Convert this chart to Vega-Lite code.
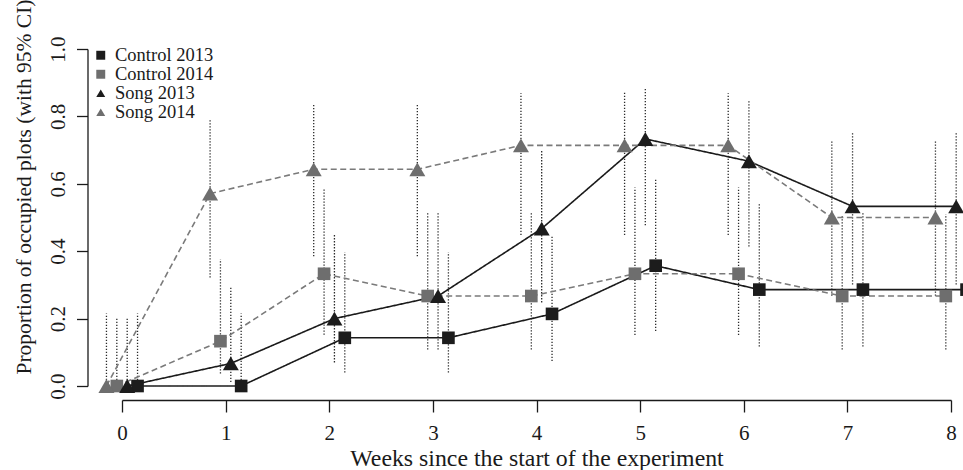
{
  "$schema": "https://vega.github.io/schema/vega-lite/v6.json",
  "width": 829,
  "height": 337,
  "autosize": {"type": "none"},
  "padding": {"left": 122, "top": 49, "right": 12, "bottom": 84},
  "background": "white",
  "config": {
    "font": "Liberation Serif",
    "view": {"stroke": null},
    "axis": {
      "grid": false,
      "domainColor": "#1a1a1a",
      "tickColor": "#1a1a1a",
      "labelColor": "#1a1a1a",
      "titleColor": "#1a1a1a",
      "domainWidth": 1.3,
      "tickWidth": 1.3,
      "labelFont": "Liberation Serif",
      "titleFont": "Liberation Serif",
      "titleFontWeight": "normal",
      "labelOverlap": false,
      "labelFlush": false
    }
  },
  "data": {
    "values": [
      {"series": "Control 2013", "treatment": "Control", "year": "2013", "week": 0, "x": 0.15, "p": 0, "lo": 0, "hi": 0.215},
      {"series": "Control 2013", "treatment": "Control", "year": "2013", "week": 1, "x": 1.15, "p": 0, "lo": 0, "hi": 0.215},
      {"series": "Control 2013", "treatment": "Control", "year": "2013", "week": 2, "x": 2.15, "p": 0.143, "lo": 0.040, "hi": 0.397},
      {"series": "Control 2013", "treatment": "Control", "year": "2013", "week": 3, "x": 3.15, "p": 0.143, "lo": 0.040, "hi": 0.397},
      {"series": "Control 2013", "treatment": "Control", "year": "2013", "week": 4, "x": 4.15, "p": 0.214, "lo": 0.074, "hi": 0.445},
      {"series": "Control 2013", "treatment": "Control", "year": "2013", "week": 5, "x": 5.15, "p": 0.357, "lo": 0.163, "hi": 0.613},
      {"series": "Control 2013", "treatment": "Control", "year": "2013", "week": 6, "x": 6.15, "p": 0.286, "lo": 0.117, "hi": 0.543},
      {"series": "Control 2013", "treatment": "Control", "year": "2013", "week": 7, "x": 7.15, "p": 0.286, "lo": 0.117, "hi": 0.515},
      {"series": "Control 2013", "treatment": "Control", "year": "2013", "week": 8, "x": 8.15, "p": 0.286, "lo": 0.117, "hi": 0.515},
      {"series": "Control 2014", "treatment": "Control", "year": "2014", "week": 0, "x": -0.05, "p": 0, "lo": 0, "hi": 0.204},
      {"series": "Control 2014", "treatment": "Control", "year": "2014", "week": 1, "x": 0.95, "p": 0.133, "lo": 0.037, "hi": 0.376},
      {"series": "Control 2014", "treatment": "Control", "year": "2014", "week": 2, "x": 1.95, "p": 0.333, "lo": 0.152, "hi": 0.585},
      {"series": "Control 2014", "treatment": "Control", "year": "2014", "week": 3, "x": 2.95, "p": 0.267, "lo": 0.108, "hi": 0.518},
      {"series": "Control 2014", "treatment": "Control", "year": "2014", "week": 4, "x": 3.95, "p": 0.267, "lo": 0.108, "hi": 0.518},
      {"series": "Control 2014", "treatment": "Control", "year": "2014", "week": 5, "x": 4.95, "p": 0.333, "lo": 0.151, "hi": 0.589},
      {"series": "Control 2014", "treatment": "Control", "year": "2014", "week": 6, "x": 5.95, "p": 0.333, "lo": 0.151, "hi": 0.589},
      {"series": "Control 2014", "treatment": "Control", "year": "2014", "week": 7, "x": 6.95, "p": 0.267, "lo": 0.108, "hi": 0.505},
      {"series": "Control 2014", "treatment": "Control", "year": "2014", "week": 8, "x": 7.95, "p": 0.267, "lo": 0.108, "hi": 0.51},
      {"series": "Song 2013", "treatment": "Song", "year": "2013", "week": 0, "x": 0.05, "p": 0, "lo": 0, "hi": 0.204},
      {"series": "Song 2013", "treatment": "Song", "year": "2013", "week": 1, "x": 1.05, "p": 0.067, "lo": 0.012, "hi": 0.292},
      {"series": "Song 2013", "treatment": "Song", "year": "2013", "week": 2, "x": 2.05, "p": 0.2, "lo": 0.07, "hi": 0.449},
      {"series": "Song 2013", "treatment": "Song", "year": "2013", "week": 3, "x": 3.05, "p": 0.267, "lo": 0.108, "hi": 0.518},
      {"series": "Song 2013", "treatment": "Song", "year": "2013", "week": 4, "x": 4.05, "p": 0.467, "lo": 0.248, "hi": 0.70},
      {"series": "Song 2013", "treatment": "Song", "year": "2013", "week": 5, "x": 5.05, "p": 0.733, "lo": 0.477, "hi": 0.886},
      {"series": "Song 2013", "treatment": "Song", "year": "2013", "week": 6, "x": 6.05, "p": 0.667, "lo": 0.414, "hi": 0.849},
      {"series": "Song 2013", "treatment": "Song", "year": "2013", "week": 7, "x": 7.05, "p": 0.533, "lo": 0.301, "hi": 0.75},
      {"series": "Song 2013", "treatment": "Song", "year": "2013", "week": 8, "x": 8.05, "p": 0.533, "lo": 0.301, "hi": 0.75},
      {"series": "Song 2014", "treatment": "Song", "year": "2014", "week": 0, "x": -0.15, "p": 0, "lo": 0, "hi": 0.215},
      {"series": "Song 2014", "treatment": "Song", "year": "2014", "week": 1, "x": 0.85, "p": 0.571, "lo": 0.322, "hi": 0.789},
      {"series": "Song 2014", "treatment": "Song", "year": "2014", "week": 2, "x": 1.85, "p": 0.643, "lo": 0.385, "hi": 0.835},
      {"series": "Song 2014", "treatment": "Song", "year": "2014", "week": 3, "x": 2.85, "p": 0.643, "lo": 0.385, "hi": 0.835},
      {"series": "Song 2014", "treatment": "Song", "year": "2014", "week": 4, "x": 3.85, "p": 0.714, "lo": 0.448, "hi": 0.869},
      {"series": "Song 2014", "treatment": "Song", "year": "2014", "week": 5, "x": 4.85, "p": 0.714, "lo": 0.448, "hi": 0.87},
      {"series": "Song 2014", "treatment": "Song", "year": "2014", "week": 6, "x": 5.85, "p": 0.714, "lo": 0.448, "hi": 0.869},
      {"series": "Song 2014", "treatment": "Song", "year": "2014", "week": 7, "x": 6.85, "p": 0.5, "lo": 0.268, "hi": 0.731},
      {"series": "Song 2014", "treatment": "Song", "year": "2014", "week": 8, "x": 7.85, "p": 0.5, "lo": 0.268, "hi": 0.731}
    ]
  },
  "encoding": {
    "x": {
      "field": "x",
      "type": "quantitative",
      "scale": {"domain": [0, 8], "nice": false, "zero": false},
      "axis": {
        "title": "Weeks since the start of the experiment",
        "values": [0, 1, 2, 3, 4, 5, 6, 7, 8],
        "format": "d",
        "offset": 14,
        "tickSize": 12,
        "labelFontSize": 21,
        "labelBaseline": "alphabetic",
        "labelPadding": 27,
        "titleFontSize": 23.8,
        "titlePadding": 3
      }
    },
    "y": {
      "field": "p",
      "type": "quantitative",
      "scale": {"domain": [0, 1], "nice": false, "zero": false},
      "axis": {"title": "Proportion of occupied plots (with 95% CI)", "values": [0, 0.2, 0.4, 0.6, 0.8, 1], "format": ".1f", "offset": 34.5, "tickSize": 11, "labelAngle": 270, "labelAlign": "center", "labelBaseline": "alphabetic", "labelPadding": 12, "labelFontSize": 21, "titleFontSize": 21.5, "titleBaseline": "alphabetic", "titleAngle": 270, "titleX": -57.5, "titleY": 137.5}
    }
  },
  "layer": [
    {
      "mark": {"type": "rule", "strokeDash": [1.3, 1.7], "strokeWidth": 1.3, "color": "#2a2a2a"},
      "encoding": {
        "y": {
          "field": "lo",
          "type": "quantitative",
          "scale": {"domain": [0, 1], "nice": false, "zero": false},
          "axis": {"title": "Proportion of occupied plots (with 95% CI)", "values": [0, 0.2, 0.4, 0.6, 0.8, 1], "format": ".1f", "offset": 34.5, "tickSize": 11, "labelAngle": 270, "labelAlign": "center", "labelBaseline": "alphabetic", "labelPadding": 12, "labelFontSize": 21, "titleFontSize": 21.5, "titleBaseline": "alphabetic", "titleAngle": 270, "titleX": -57.5, "titleY": 137.5}
        },
        "y2": {"field": "hi"}
      }
    },
    {
      "mark": {"type": "line", "strokeWidth": 1.6},
      "encoding": {
        "detail": {"field": "series"},
        "stroke": {
          "field": "year",
          "type": "nominal",
          "scale": {"domain": ["2013", "2014"], "range": ["#1a1a1a", "#7a7a7a"]},
          "legend": null
        },
        "strokeDash": {
          "field": "year",
          "type": "nominal",
          "scale": {"domain": ["2013", "2014"], "range": [[1, 0], [6, 3.5]]},
          "legend": null
        }
      }
    },
    {
      "mark": {"type": "point", "filled": true, "opacity": 1},
      "encoding": {
        "color": {
          "field": "series",
          "type": "nominal",
          "scale": {"domain": ["Control 2013", "Control 2014", "Song 2013", "Song 2014"], "range": ["#1c1c1c", "#6e6e6e", "#1c1c1c", "#6e6e6e"]},
          "legend": {"title": null, "orient": "none", "legendX": -30.5, "legendY": -3, "padding": 0, "symbolSize": 80, "symbolStrokeWidth": 0, "labelFont": "Liberation Serif", "labelFontSize": 18.5, "labelColor": "#1a1a1a", "labelOffset": 5, "rowPadding": -3}
        },
        "shape": {
          "field": "series",
          "type": "nominal",
          "scale": {"domain": ["Control 2013", "Control 2014", "Song 2013", "Song 2014"], "range": ["square", "square", "triangle-up", "triangle-up"]},
          "legend": {"title": null, "orient": "none", "legendX": -30.5, "legendY": -3, "padding": 0, "symbolSize": 80, "symbolStrokeWidth": 0, "labelFont": "Liberation Serif", "labelFontSize": 18.5, "labelColor": "#1a1a1a", "labelOffset": 5, "rowPadding": -3}
        },
        "size": {
          "field": "treatment",
          "type": "nominal",
          "scale": {"type": "ordinal", "domain": ["Control", "Song"], "range": [160, 256]},
          "legend": null
        }
      }
    }
  ]
}
